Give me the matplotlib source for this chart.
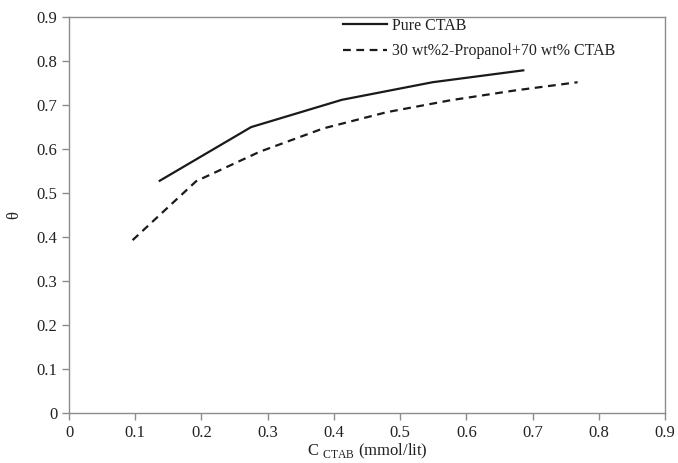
import numpy as np
import matplotlib
matplotlib.use("Agg")
import matplotlib.pyplot as plt

plt.rcParams['font.family'] = ['Liberation Serif', 'DejaVu Serif']
plt.rcParams['mathtext.fontset'] = 'custom'
plt.rcParams['mathtext.rm'] = 'Liberation Serif'

# veriler
c_pure = [0.137, 0.275, 0.412, 0.549, 0.686]
theta_pure = [0.528, 0.650, 0.712, 0.752, 0.779]

c_mix = [0.096, 0.192, 0.288, 0.384, 0.480, 0.576, 0.672, 0.768]
theta_mix = [0.393, 0.527, 0.594, 0.647, 0.684, 0.711, 0.733, 0.752]

xticks = [0, 0.1, 0.2, 0.3, 0.4, 0.5, 0.6, 0.7, 0.8, 0.9]
yticks = [0, 0.1, 0.2, 0.3, 0.4, 0.5, 0.6, 0.7, 0.8, 0.9]

fig = plt.figure(figsize=(6.78, 4.63), dpi=100)
ax = fig.add_axes([0.1018, 0.108, 0.879, 0.855])

ax.plot(c_pure, theta_pure, color='#1a1a1a', lw=1.6, label='Pure CTAB')
ax.plot(c_mix, theta_mix, color='#1a1a1a', lw=1.6, linestyle=(0, (3.5, 2.5)),
        label='30 wt%2-Propanol+70 wt% CTAB')

ax.set_xlim(0, 0.9)
ax.set_ylim(0, 0.9)
ax.set_xticks(xticks)
ax.set_yticks(yticks)
ax.set_xticklabels([f'{v:g}' for v in xticks])
ax.set_yticklabels([f'{v:g}' for v in yticks])

for s in ax.spines.values():
    s.set_color('#8c8c8c')
    s.set_linewidth(1.0)
ax.tick_params(direction='out', length=5, width=1, color='#8c8c8c',
               labelsize=12, labelcolor='#222222')

ax.set_xlabel(r'C $_{\mathrm{CTAB}}$ (mmol/lit)', fontsize=12, color='#222222', labelpad=1)
ax.set_ylabel('θ', fontsize=12, color='#222222', labelpad=10)

ax.legend(loc='upper left', bbox_to_anchor=(0.435, 1.035), frameon=False,
          fontsize=11.5, handlelength=2.8, handletextpad=0.3, labelspacing=0.6,
          labelcolor='#222222')

fig.savefig('out.png', dpi=100)
